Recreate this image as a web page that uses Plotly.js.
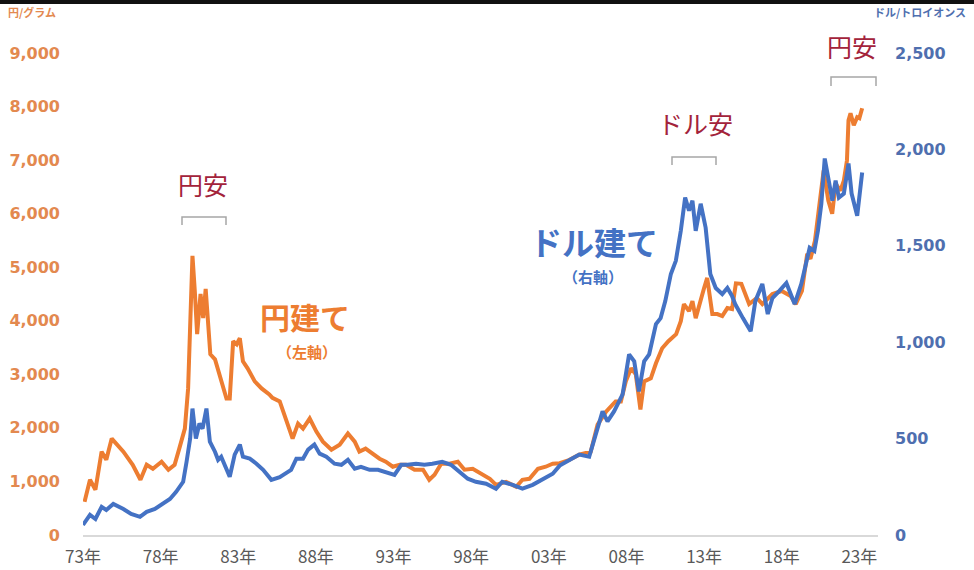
<!DOCTYPE html>
<html>
<head>
<meta charset="utf-8">
<script src="https://cdn.plot.ly/plotly-3.0.1.min.js"></script>
<style>
  body { margin: 0; background: #fff; }
  #topbar { position: absolute; left: 0; top: 0; width: 974px; height: 4px; background: #111; z-index: 5; }
  #chart { width: 974px; height: 570px; }
</style>
</head>
<body>
<div id="topbar"></div>
<div id="chart"></div>
<script>
// 円建て金価格 (円/グラム)
const yenYears = [1973.1, 1973.45, 1973.8, 1974.2, 1974.5, 1974.85, 1975.6, 1976.2, 1976.7, 1977.1,
  1977.5, 1978.06, 1978.5, 1978.9, 1979.2, 1979.56, 1979.77, 1979.88, 1980.05, 1980.2,
  1980.35, 1980.57, 1980.74, 1980.9, 1981.06, 1981.2, 1981.5, 1981.8, 1982.24, 1982.45,
  1982.67, 1982.9, 1983.1, 1983.3, 1983.6, 1984.06, 1984.5, 1985.0, 1985.2, 1985.67,
  1986.1, 1986.5, 1986.85, 1987.17, 1987.6, 1988.03, 1988.45, 1989.0, 1989.53, 1990.06,
  1990.5, 1990.8, 1991.2, 1991.67, 1992.1, 1992.5, 1992.95, 1993.4, 1993.8, 1994.35,
  1994.9, 1995.3, 1995.64, 1996.07, 1996.6, 1997.14, 1997.57, 1998.1, 1998.64, 1999.2,
  1999.6, 2000.25, 2000.9, 2001.3, 2001.75, 2002.3, 2002.8, 2003.25, 2003.7, 2004.3,
  2004.96, 2005.7, 2006.14, 2006.7, 2007.3, 2007.64, 2007.96, 2008.3, 2008.6, 2008.9,
  2009.14, 2009.57, 2009.9, 2010.3, 2010.7, 2011.2, 2011.5, 2011.7, 2012.03, 2012.25,
  2012.46, 2012.78, 2013.0, 2013.2, 2013.53, 2013.85, 2014.17, 2014.5, 2014.8, 2015.05,
  2015.4, 2015.9, 2016.4, 2016.75, 2017.4, 2018.0, 2018.57, 2018.9, 2019.3, 2019.64,
  2019.85, 2020.14, 2020.4, 2020.7, 2021.0, 2021.25, 2021.47, 2021.78, 2022.0, 2022.2,
  2022.3, 2022.43, 2022.64, 2022.86, 2023.0, 2023.18];
const yenPrice = [619, 1031, 844, 1556, 1406, 1800, 1556, 1312, 1031, 1312,
  1237, 1369, 1219, 1312, 1612, 1987, 2737, 3619, 5212, 4556,
  3750, 4500, 4050, 4594, 3937, 3375, 3281, 3000, 2550, 2550,
  3619, 3562, 3675, 3244, 3112, 2869, 2737, 2625, 2560, 2494,
  2119, 1800, 2081, 1987, 2175, 1931, 1744, 1594, 1687, 1894,
  1744, 1556, 1612, 1519, 1425, 1369, 1275, 1312, 1312, 1219,
  1219, 1031, 1125, 1331, 1331, 1369, 1219, 1237, 1144, 1050,
  937, 994, 900, 1031, 1050, 1237, 1275, 1331, 1340, 1400,
  1500, 1556, 2062, 2306, 2494, 2494, 2869, 3112, 3000, 2344,
  2869, 2925, 3206, 3487, 3619, 3750, 3994, 4312, 4181, 4369,
  4050, 4425, 4612, 4800, 4125, 4125, 4087, 4237, 4219, 4700,
  4690, 4312, 4425, 4312, 4500, 4556, 4462, 4312, 4556, 5250,
  5156, 5494, 6056, 6806, 6244, 6000, 6562, 6431, 6619, 6994,
  7744, 7875, 7650, 7800, 7781, 7969];

// ドル建て金価格 (ドル/トロイオンス)
const usdYears = [1973.0, 1973.45, 1973.8, 1974.2, 1974.5, 1974.95, 1975.6, 1976.1, 1976.67, 1977.1,
  1977.63, 1978.16, 1978.6, 1979.0, 1979.45, 1979.67, 1979.9, 1980.05, 1980.27, 1980.5,
  1980.7, 1980.95, 1981.17, 1981.5, 1981.7, 1981.9, 1982.24, 1982.45, 1982.77, 1983.1,
  1983.3, 1983.74, 1984.17, 1984.6, 1985.13, 1985.67, 1985.9, 1986.4, 1986.74, 1987.17,
  1987.5, 1987.9, 1988.24, 1988.67, 1989.2, 1989.64, 1990.06, 1990.5, 1990.9, 1991.46,
  1992.0, 1992.5, 1993.06, 1993.5, 1993.9, 1994.45, 1994.99, 1995.5, 1996.13, 1996.7,
  1997.24, 1997.78, 1998.3, 1998.96, 1999.6, 2000.0, 2000.67, 2001.3, 2001.96, 2002.6,
  2003.25, 2003.7, 2004.3, 2004.96, 2005.6, 2006.03, 2006.46, 2006.78, 2007.2, 2007.75,
  2008.17, 2008.5, 2008.8, 2009.14, 2009.46, 2009.9, 2010.2, 2010.5, 2010.86, 2011.18,
  2011.5, 2011.78, 2012.03, 2012.25, 2012.46, 2012.78, 2013.1, 2013.4, 2013.75, 2014.17,
  2014.5, 2014.8, 2015.0, 2015.5, 2016.0, 2016.3, 2016.75, 2017.1, 2017.4, 2017.85,
  2018.3, 2018.83, 2019.26, 2019.8, 2020.1, 2020.33, 2020.55, 2020.77, 2021.0, 2021.26,
  2021.47, 2021.68, 2022.0, 2022.3, 2022.5, 2022.86, 2023.18];
const usdPrice = [52, 104, 83, 146, 130, 161, 135, 109, 94, 120,
  135, 161, 187, 224, 276, 380, 500, 656, 500, 578,
  552, 656, 484, 432, 390, 406, 344, 302, 417, 469,
  406, 396, 370, 338, 286, 300, 312, 338, 396, 396,
  443, 469, 422, 406, 370, 364, 390, 344, 354, 338,
  338, 328, 312, 364, 364, 370, 364, 370, 380, 364,
  328, 292, 276, 266, 240, 276, 260, 240, 260, 286,
  318, 360, 390, 417, 406, 521, 641, 589, 641, 729,
  937, 901, 745, 901, 937, 1094, 1125, 1213, 1354, 1422,
  1578, 1750, 1682, 1734, 1578, 1718, 1594, 1354, 1281, 1250,
  1281, 1240, 1198, 1125, 1057, 1213, 1302, 1146, 1229, 1266,
  1307, 1198, 1302, 1490, 1474, 1578, 1718, 1953, 1838, 1734,
  1838, 1750, 1771, 1927, 1771, 1656, 1880];

const tickYears = [1973, 1978, 1983, 1988, 1993, 1998, 2003, 2008, 2013, 2018, 2023];
const tickLabels = ['73年', '78年', '83年', '88年', '93年', '98年', '03年', '08年', '13年', '18年', '23年'];
const leftTicks = [0, 1000, 2000, 3000, 4000, 5000, 6000, 7000, 8000, 9000];
const rightTicks = [0, 500, 1000, 1500, 2000, 2500];

const ORANGE = '#ED7D31';
const BLUE = '#4472C4';
const RED = '#A3233B';
const JP = '"Noto Sans CJK JP", "Noto Sans", sans-serif';

// plot area in pixels
const W = 974, H = 570;
const M = { l: 83, r: 96, t: 0, b: 35 };
const PW = W - M.l - M.r, PH = H - M.t - M.b;
const px = (x) => (x - M.l) / PW;
const py = (y) => (H - M.b - y) / PH;

const fmt = (v) => v.toLocaleString('en-US');

const traces = [
  {
    x: yenYears, y: yenPrice, type: 'scatter', mode: 'lines',
    line: { color: ORANGE, width: 4 }, yaxis: 'y', hoverinfo: 'skip'
  },
  {
    x: usdYears, y: usdPrice, type: 'scatter', mode: 'lines',
    line: { color: BLUE, width: 4 }, yaxis: 'y2', hoverinfo: 'skip'
  }
];

function label(text, x, y, size, color, bold) {
  return {
    text: text, xref: 'paper', yref: 'paper', x: px(x), y: py(y),
    xanchor: 'center', yanchor: 'middle', showarrow: false,
    font: { family: JP, size: size, color: color, weight: bold ? 'bold' : 'normal' }
  };
}

function bracket(x0, x1, yTop, yBot) {
  return {
    type: 'path', xref: 'paper', yref: 'paper',
    path: `M ${px(x0)} ${py(yBot)} L ${px(x0)} ${py(yTop)} L ${px(x1)} ${py(yTop)} L ${px(x1)} ${py(yBot)}`,
    line: { color: '#a6a6a6', width: 1.5 }
  };
}

const annotations = [
  label('円安', 203, 184, 25, RED, false),
  label('ドル安', 695, 123, 25, RED, false),
  label('円安', 852, 46, 25, RED, false),
  label('円建て', 305, 316, 30, ORANGE, true),
  label('（左軸）', 307, 351, 15, ORANGE, true),
  label('ドル建て', 594, 241, 32, BLUE, true),
  label('（右軸）', 593, 276, 15, BLUE, true),
  Object.assign(label('円/グラム', 6, 12, 11, '#E3894F', true), { xanchor: 'left' }),
  Object.assign(label('ドル/トロイオンス', 968, 12, 11, '#4F6FAF', true), { xanchor: 'right' })
];

const shapes = [
  bracket(182, 226, 217, 225),
  bracket(672, 716, 157, 165),
  bracket(831, 876, 77, 86)
];

const layout = {
  width: W, height: H,
  margin: M,
  paper_bgcolor: '#ffffff', plot_bgcolor: '#ffffff',
  showlegend: false,
  xaxis: {
    range: [1973, 2024.2],
    tickvals: tickYears, ticktext: tickLabels,
    showgrid: false, zeroline: false,
    showline: true, linecolor: '#d9d9d9', linewidth: 2,
    ticks: '',
    ticklabelstandoff: 6,
    tickfont: { family: JP, size: 17, color: '#595959' }
  },
  yaxis: {
    range: [0, 9990],
    tickvals: leftTicks, ticktext: leftTicks.map(fmt),
    showgrid: false, zeroline: false, showline: false, ticks: '',
    ticklabelstandoff: 22,
    tickfont: { family: '"DejaVu Sans", sans-serif', size: 16, color: '#E3894F', weight: 'bold' }
  },
  yaxis2: {
    range: [0, 2775],
    overlaying: 'y', side: 'right',
    tickvals: rightTicks, ticktext: rightTicks.map(fmt),
    showgrid: false, zeroline: false, showline: false, ticks: '',
    ticklabelstandoff: 16,
    tickfont: { family: '"DejaVu Sans", sans-serif', size: 16, color: '#4F6FAF', weight: 'bold' }
  },
  annotations: annotations,
  shapes: shapes
};

Plotly.newPlot('chart', traces, layout, { staticPlot: true, displayModeBar: false });
</script>
</body>
</html>
